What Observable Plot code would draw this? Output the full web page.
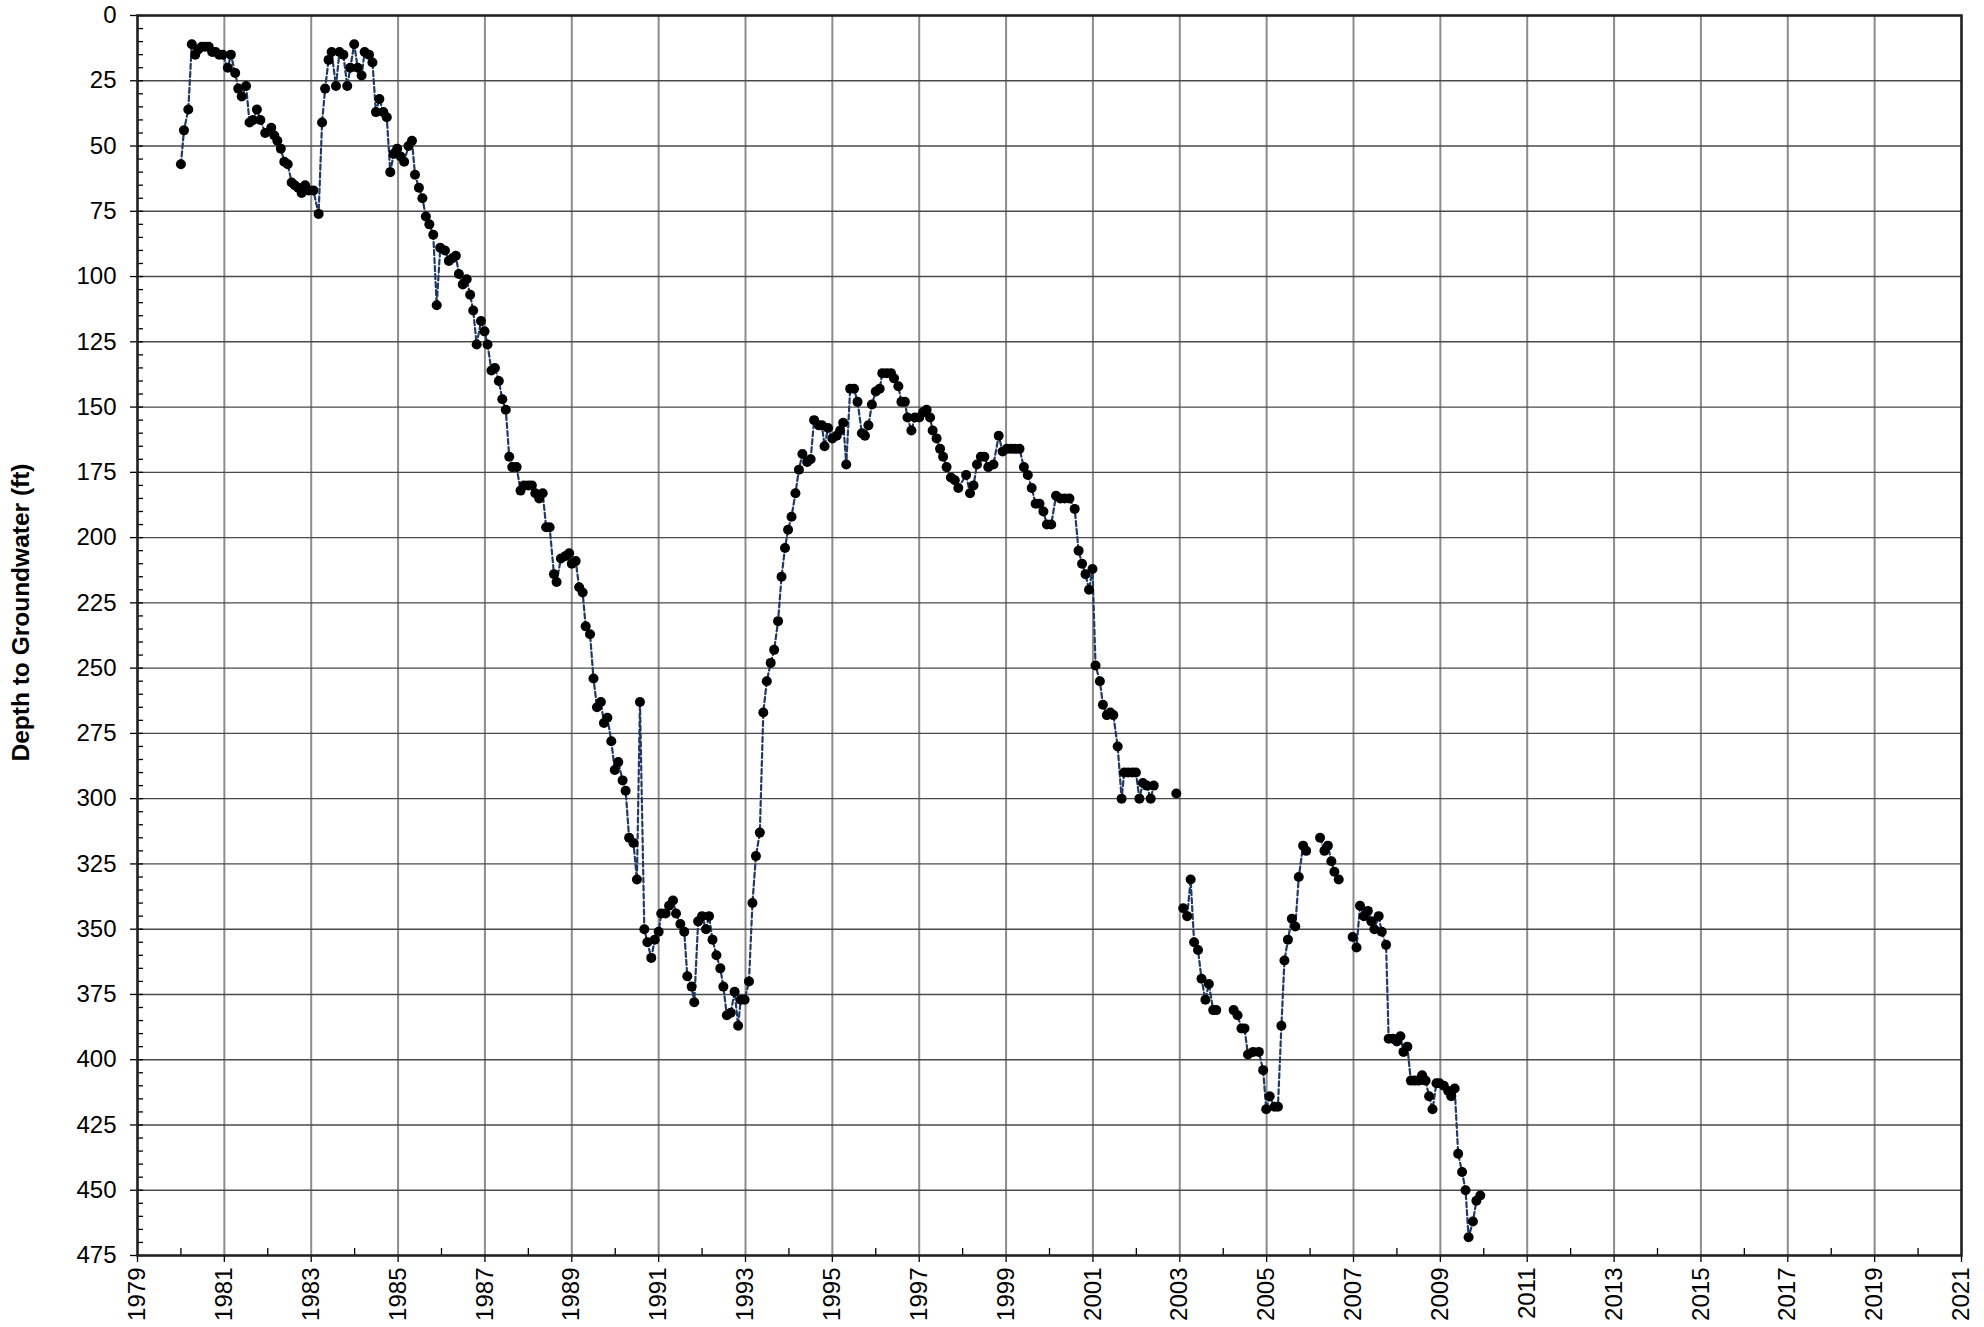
<!DOCTYPE html>
<html>
<head>
<meta charset="utf-8">
<script src="https://cdn.jsdelivr.net/npm/d3@7"></script>
<script src="https://cdn.jsdelivr.net/npm/@observablehq/plot@0.6"></script>
<style>
  html, body { margin: 0; padding: 0; background: #fff; }
  #chart svg { display: block; }
  g[aria-label="y-axis label"] text { font-weight: bold; font-size: 24.5px; }
</style>
</head>
<body>
<div id="chart"></div>
<script>
// Decimal year of each measurement (null depth = break in the line)
const years = [
  1980.00,1980.07,1980.17,1980.25,1980.33,1980.40,1980.48,1980.56,1980.64,1980.72,1980.80,1980.88,1980.96,
  1981.08,1981.15,1981.25,1981.32,1981.40,1981.50,1981.58,1981.66,1981.75,1981.83,1981.94,
  1982.08,1982.15,1982.22,1982.30,1982.38,1982.46,1982.55,1982.62,1982.70,1982.78,1982.86,1982.94,
  1983.05,1983.17,1983.25,1983.32,1983.40,1983.47,1983.57,1983.65,1983.74,1983.83,1983.90,1983.99,
  1984.07,1984.16,1984.23,1984.33,1984.41,1984.49,1984.57,1984.66,1984.74,1984.82,1984.90,1984.98,
  1985.06,1985.14,1985.24,1985.32,1985.39,1985.48,1985.56,1985.64,1985.72,1985.81,1985.89,1985.97,
  1986.08,1986.17,1986.25,1986.33,1986.40,1986.49,1986.58,1986.66,1986.73,1986.81,1986.91,1986.99,
  1987.06,1987.15,1987.23,1987.32,1987.40,1987.48,1987.56,1987.63,1987.73,1987.82,1987.90,
  1988.00,1988.08,1988.16,1988.25,1988.33,1988.41,1988.49,1988.59,1988.65,1988.75,1988.86,1988.94,
  1989.00,1989.09,1989.17,1989.25,1989.32,1989.42,1989.50,1989.58,1989.67,1989.74,1989.82,1989.91,1989.99,
  1990.07,1990.17,1990.24,1990.32,1990.42,1990.50,1990.57,1990.67,1990.74,1990.83,1990.91,
  1991.00,1991.06,1991.16,1991.24,1991.33,1991.40,1991.50,1991.59,1991.66,1991.76,1991.82,1991.91,
  1992.00,1992.09,1992.16,1992.24,1992.33,1992.42,1992.49,1992.57,1992.66,1992.75,1992.83,1992.89,1992.98,
  1993.08,1993.16,1993.24,1993.33,1993.41,1993.49,1993.58,1993.66,1993.75,1993.83,1993.91,1993.98,
  1994.06,1994.15,1994.23,1994.31,1994.42,1994.50,1994.58,1994.69,1994.76,1994.82,1994.90,
  1995.00,1995.10,1995.18,1995.25,1995.32,1995.41,1995.50,1995.58,1995.68,1995.75,1995.83,1995.91,
  1996.00,1996.09,1996.15,1996.25,1996.35,1996.42,1996.52,1996.59,1996.67,1996.73,1996.82,1996.90,
  1997.00,1997.09,1997.17,1997.25,1997.31,1997.40,1997.48,1997.55,1997.63,1997.73,1997.82,1997.90,
  1998.08,1998.17,1998.25,1998.33,1998.42,1998.50,1998.59,1998.71,1998.83,1998.92,
  1999.02,1999.12,1999.21,1999.31,1999.41,1999.50,1999.59,1999.68,1999.77,1999.86,1999.94,
  2000.04,2000.15,2000.25,2000.35,2000.46,2000.58,2000.67,2000.75,2000.83,2000.91,2000.99,
  2001.06,2001.16,2001.23,2001.32,2001.40,2001.47,2001.57,2001.66,2001.72,2001.81,2001.91,2001.99,
  2002.07,2002.15,2002.24,2002.33,2002.40,2002.60,2002.92,2003.00,
  2003.08,2003.17,2003.25,2003.33,2003.42,2003.50,2003.59,2003.67,2003.77,2003.84,2004.05,
  2004.24,2004.33,2004.42,2004.49,2004.57,2004.69,2004.82,2004.92,2004.99,
  2005.07,2005.18,2005.26,2005.34,2005.41,2005.49,2005.58,2005.66,2005.74,2005.84,2005.91,2006.05,
  2006.23,2006.33,2006.41,2006.49,2006.56,2006.66,2006.80,
  2006.98,2007.07,2007.15,2007.24,2007.33,2007.41,2007.48,2007.58,2007.65,2007.75,2007.81,2007.91,
  2008.00,2008.08,2008.15,2008.24,2008.32,2008.41,2008.50,2008.58,2008.66,2008.74,2008.82,2008.91,2008.98,
  2009.08,2009.18,2009.25,2009.33,2009.41,2009.50,2009.58,2009.65,2009.75,2009.83,2009.92
];
// Depth to groundwater (ft)
const depths = [
  57,44,36,11,15,13,12,12,12,14,14,15,15,
  20,15,22,28,31,27,41,40,36,40,45,
  43,46,48,51,56,57,64,65,66,68,65,67,
  67,76,41,28,17,14,27,14,15,27,20,11,
  20,23,14,15,18,37,32,37,39,60,53,51,
  54,56,50,48,61,66,70,77,80,84,111,89,
  90,94,93,92,99,103,101,107,113,126,117,121,
  126,136,135,140,147,151,169,173,173,182,180,
  180,180,183,185,183,196,196,214,217,208,207,206,
  210,209,219,221,234,237,254,265,263,271,269,278,289,
  286,293,297,315,317,331,263,350,355,361,354,
  351,344,344,341,339,344,348,351,368,372,378,347,
  345,350,345,354,360,365,372,383,382,374,387,377,377,
  370,340,322,313,267,255,248,243,232,215,204,197,
  192,183,174,168,171,170,155,157,157,165,158,
  162,161,159,156,172,143,143,148,160,161,157,149,
  144,143,137,137,137,139,142,148,148,154,159,154,
  154,152,151,154,159,162,166,169,173,177,178,181,
  176,183,180,172,169,169,173,172,161,167,
  166,166,166,166,173,176,181,187,187,190,195,
  195,184,185,185,185,189,205,210,214,220,212,
  249,255,264,268,267,268,280,300,290,290,290,290,
  300,294,295,300,295,null,298,null,
  342,345,331,355,358,369,377,371,381,381,null,
  381,383,388,388,398,397,397,404,419,
  414,418,418,387,362,354,346,349,330,318,320,null,
  315,320,318,324,328,331,null,
  353,357,341,345,343,347,350,345,351,356,392,392,
  393,391,397,395,408,408,408,406,408,414,419,409,409,
  410,412,414,411,436,443,450,468,462,454,452
];

const yMajor = d3.range(0, 476, 25);
const yMinor = d3.range(0, 476, 5);
const xMajor = d3.range(1979, 2022, 2);
const xMinor = d3.range(1980, 2021, 2);

const rows = years.map((t, i) => ({year: t, depth: depths[i]}));
const pts = rows.filter(d => d.depth != null);

const chart = Plot.plot({
  width: 1984,
  height: 1327,
  marginLeft: 137,
  marginTop: 15,
  marginRight: 23,
  marginBottom: 72,
  style: {fontFamily: "'Liberation Sans', Arial, sans-serif", fontSize: "24px", color: "black", background: "white"},
  x: {domain: [1979, 2021], type: "linear"},
  y: {domain: [0, 475], reverse: true},
  marks: [
    Plot.gridX(xMajor, {stroke: "#8c8c8c", strokeOpacity: 1, strokeWidth: 2}),
    Plot.gridY(yMajor, {stroke: "#4a4a4a", strokeOpacity: 1, strokeWidth: 1.4}),
    Plot.axisY(yMinor, {tickSize: -6, tickFormat: () => "", label: null, strokeWidth: 1.3}),
    Plot.axisY(yMajor, {tickSize: 7, tickPadding: 14, tickFormat: d3.format("d"), strokeWidth: 1.3,
      label: "Depth to Groundwater (ft)", labelAnchor: "center", labelArrow: "none", labelOffset: 126}),
    Plot.axisX(xMinor, {tickSize: -7, tickFormat: () => "", label: null, strokeWidth: 1.3}),
    Plot.axisX(xMajor, {tickSize: 7, tickPadding: 5, tickRotate: -90, tickFormat: d3.format("d"), label: null, strokeWidth: 1.3}),
    Plot.line(rows, {x: "year", y: "depth", stroke: "#1f3a64", strokeWidth: 2.2, strokeDasharray: "5,3"}),
    Plot.dot(pts, {x: "year", y: "depth", r: 5, fill: "black", stroke: "none"}),
    Plot.frame({stroke: "#222", strokeWidth: 2.5})
  ]
});
document.getElementById("chart").appendChild(chart);
// shift the rotated y-axis title slightly upward (along its baseline), as in the reference
d3.select(chart).selectAll('g[aria-label="y-axis label"] text').attr("dx", 23);
</script>
</body>
</html>
